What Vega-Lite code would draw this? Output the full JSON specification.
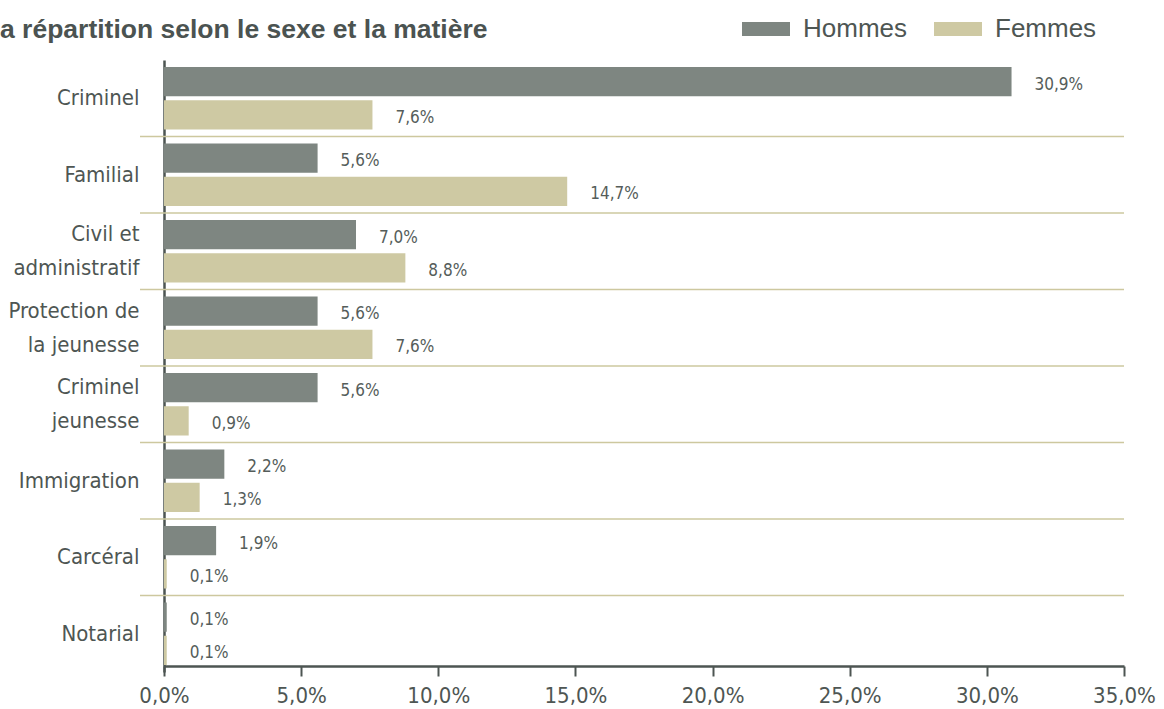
{
  "$schema": "https://vega.github.io/schema/vega-lite/v6.json",
  "width": 960,
  "height": 612,
  "autosize": "none",
  "padding": {"left": 164, "top": 60, "right": 40, "bottom": 37},
  "background": "white",
  "config": {
    "locale": {"number": {"decimal": ",", "thousands": " ", "grouping": [3], "currency": ["", " €"]}},
    "view": {"stroke": null}
  },
  "title": {
    "text": "a répartition selon le sexe et la matière",
    "anchor": "start",
    "frame": "group",
    "dx": -164,
    "offset": 24,
    "dy": 83,
    "baseline": "alphabetic",
    "font": "Liberation Sans",
    "fontSize": 26.5,
    "fontWeight": "bold",
    "color": "#4b5351"
  },
  "datasets": {
    "bars": [
      {"matiere": "Criminel", "sexe": "Hommes", "part": 0.309},
      {"matiere": "Criminel", "sexe": "Femmes", "part": 0.076},
      {"matiere": "Familial", "sexe": "Hommes", "part": 0.056},
      {"matiere": "Familial", "sexe": "Femmes", "part": 0.147},
      {"matiere": "Civil et administratif", "sexe": "Hommes", "part": 0.070},
      {"matiere": "Civil et administratif", "sexe": "Femmes", "part": 0.088},
      {"matiere": "Protection de la jeunesse", "sexe": "Hommes", "part": 0.056},
      {"matiere": "Protection de la jeunesse", "sexe": "Femmes", "part": 0.076},
      {"matiere": "Criminel jeunesse", "sexe": "Hommes", "part": 0.056},
      {"matiere": "Criminel jeunesse", "sexe": "Femmes", "part": 0.009},
      {"matiere": "Immigration", "sexe": "Hommes", "part": 0.022},
      {"matiere": "Immigration", "sexe": "Femmes", "part": 0.013},
      {"matiere": "Carcéral", "sexe": "Hommes", "part": 0.019},
      {"matiere": "Carcéral", "sexe": "Femmes", "part": 0.001},
      {"matiere": "Notarial", "sexe": "Hommes", "part": 0.001},
      {"matiere": "Notarial", "sexe": "Femmes", "part": 0.001}
    ],
    "seps": [
      {"matiere": "Familial"},
      {"matiere": "Civil et administratif"},
      {"matiere": "Protection de la jeunesse"},
      {"matiere": "Criminel jeunesse"},
      {"matiere": "Immigration"},
      {"matiere": "Carcéral"},
      {"matiere": "Notarial"}
    ]
  },
  "encoding": {
    "y": {
      "field": "matiere",
      "type": "nominal",
      "scale": {
        "domain": ["Criminel", "Familial", "Civil et administratif", "Protection de la jeunesse", "Criminel jeunesse", "Immigration", "Carcéral", "Notarial"],
        "paddingInner": 0,
        "paddingOuter": 0
      },
      "axis": {
        "title": null,
        "ticks": false,
        "domainColor": "#4d5552",
        "domainWidth": 2.5,
        "labelFont": "DejaVu Sans Condensed, sans-serif",
        "labelFontSize": 22,
        "labelColor": "#4e5653",
        "labelPadding": 25,
        "labelLineHeight": 34,
        "labelOffset": {"condition": {"test": "indexof(['Civil et administratif', 'Protection de la jeunesse', 'Criminel jeunesse'], datum.value) >= 0", "value": -17}, "value": 0},
        "labelExpr": "datum.label == 'Civil et administratif' ? ['Civil et', 'administratif'] : datum.label == 'Protection de la jeunesse' ? ['Protection de', 'la jeunesse'] : datum.label == 'Criminel jeunesse' ? ['Criminel', 'jeunesse'] : datum.label"
      }
    }
  },
  "layer": [
    {
      "data": {"name": "seps"},
      "mark": {"type": "rule", "color": "#cdc89f", "strokeWidth": 1.5},
      "encoding": {
        "y": {"field": "matiere", "type": "nominal", "bandPosition": 0},
        "x": {"datum": -0.00875, "type": "quantitative", "scale": {"domain": [0, 0.35], "nice": false}},
        "x2": {"datum": 0.35}
      }
    },
    {
      "data": {"name": "bars"},
      "mark": {"type": "bar"},
      "encoding": {
        "yOffset": {"field": "sexe", "type": "nominal", "scale": {"domain": ["Hommes", "Femmes"], "paddingInner": 0.12, "paddingOuter": 0.21}},
        "x": {
          "field": "part",
          "type": "quantitative",
          "scale": {"domain": [0, 0.35], "nice": false},
          "axis": {
            "title": null,
            "format": ".1%",
            "values": [0, 0.05, 0.1, 0.15, 0.2, 0.25, 0.3, 0.35],
            "grid": false,
            "offset": -6,
            "tickSize": 10,
            "tickWidth": 2,
            "tickColor": "#4d5552",
            "domainColor": "#4d5552",
            "domainWidth": 2.5,
            "labelFont": "DejaVu Sans Condensed, sans-serif",
            "labelFontSize": 22,
            "labelColor": "#4e5653",
            "labelPadding": 9,
            "labelFlush": false,
            "labelOverlap": false
          }
        },
        "color": {
          "field": "sexe",
          "type": "nominal",
          "scale": {"domain": ["Hommes", "Femmes"], "range": ["#7e8681", "#cec9a3"]},
          "legend": {
            "orient": "none",
            "legendX": 578,
            "legendY": -55,
            "direction": "horizontal",
            "title": null,
            "symbolType": "M-1,-0.29H1V0.29H-1Z",
            "symbolSize": 2304,
            "symbolStrokeWidth": 0,
            "labelFont": "Liberation Sans",
            "labelFontSize": 26,
            "labelColor": "#4e5653",
            "labelOffset": 13,
            "columnPadding": 26
          }
        }
      }
    },
    {
      "data": {"name": "bars"},
      "mark": {"type": "text", "align": "left", "baseline": "middle", "dx": 23, "dy": 3, "font": "DejaVu Sans Condensed, sans-serif", "fontSize": 17, "color": "#555d5a"},
      "encoding": {
        "yOffset": {"field": "sexe", "type": "nominal", "scale": {"domain": ["Hommes", "Femmes"], "paddingInner": 0.12, "paddingOuter": 0.21}},
        "x": {"field": "part", "type": "quantitative"},
        "text": {"field": "part", "type": "quantitative", "format": ".1%"}
      }
    }
  ]
}
